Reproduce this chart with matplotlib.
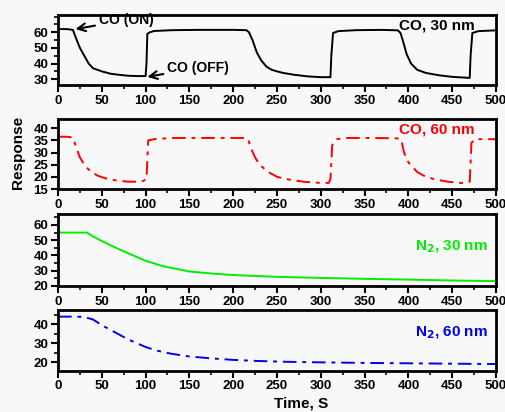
import matplotlib
matplotlib.use("Agg")
import matplotlib.pyplot as plt
from matplotlib.ticker import MultipleLocator

plt.rcParams['font.family'] = ['Liberation Sans', 'DejaVu Sans']
plt.rcParams['font.weight'] = 'bold'

# CO, 30 nm
t_co30 = [0,10,17,20,25,30,35,40,50,60,70,80,90,100,101,102,105,110,130,160,200,215,218,222,227,232,238,244,250,257,270,285,300,311,312,314,320,340,370,388,391,394,398,403,410,420,435,450,465,470,471,473,480,500]
v_co30 = [62,62,61.5,57,50,45,40,37,35,33.5,32.8,32.2,32,32,40,59,60,60.8,61.3,61.5,61.5,61.3,60,55,47,42,38,36,35,34,32.8,31.8,31.3,31.3,45,59.5,60.7,61.3,61.5,61.2,59.5,54,46,40,36,34,32.5,31.5,31,30.8,45,59.5,60.7,61.2]

# CO, 60 nm
t_co60 = [0,10,17,20,25,30,35,45,55,65,80,95,100,101,103,110,130,160,200,215,217,220,225,230,240,250,265,280,300,309,311,313,318,330,360,390,392,395,400,405,410,420,430,445,460,467,470,472,476,500]
v_co60 = [36.5,36.5,36.2,33,28,25,23,20.5,19.3,18.6,18,18,18.8,19,35,35.5,36,36,36,36,35.5,32,28,25,22,20,18.8,18,17.5,17.5,19,33,35.5,36,36,35.8,35,30,26,24,22,20,19,18,17.5,17.5,18,34,35.5,35.5]

# N2, 30 nm
t_n30 = [0,20,33,40,50,60,70,80,90,100,120,150,175,200,250,300,350,400,450,500]
v_n30 = [55,55,55,52.5,49.5,46.7,44,41.5,39,36.5,33,29.5,28.2,27.2,26,25.3,24.7,24.2,23.6,23.2]

# N2, 60 nm
t_n60 = [0,20,30,40,50,60,70,80,90,100,110,120,130,150,175,200,230,260,300,350,400,450,500]
v_n60 = [44,44,43.8,42.5,39.5,37,34.5,32,30,28,26.5,25.3,24.4,23,22,21.2,20.6,20.2,19.9,19.6,19.4,19.2,19]

xticks = [0,50,100,150,200,250,300,350,400,450,500]

bg = '#f8f8f8'
fig = plt.figure(figsize=(5.06,4.12), dpi=100, facecolor=bg)

L, W = 58/506, 438/506
def mk(top, bot):
    return fig.add_axes([L, 1-bot/412, W, (bot-top)/412], facecolor=bg)

ax1 = mk(15, 85)
ax2 = mk(119, 189)
ax3 = mk(214.3, 286)
ax4 = mk(310, 370.7)

dashdot = (0, (7, 3, 2, 3))
ax1.plot(t_co30, v_co30, color='black', lw=1.4)
ax2.plot(t_co60, v_co60, color='red', lw=1.4, linestyle=dashdot)
ax3.plot(t_n30, v_n30, color='#00ee00', lw=1.4)
ax4.plot(t_n60, v_n60, color='#0000ee', lw=1.4, linestyle=dashdot)

ax1.set_ylim(26.3, 71)
ax1.set_yticks([30,40,50,60]); ax1.yaxis.set_minor_locator(MultipleLocator(5))
ax2.set_ylim(15, 43.8)
ax2.set_yticks([15,20,25,30,35,40])
ax3.set_ylim(20, 67)
ax3.set_yticks([20,30,40,50,60]); ax3.yaxis.set_minor_locator(MultipleLocator(5))
ax4.set_ylim(15.5, 47.5)
ax4.set_yticks([20,30,40]); ax4.yaxis.set_minor_locator(MultipleLocator(5))

for ax in (ax1, ax2, ax3, ax4):
    ax.set_xlim(0, 500)
    ax.set_xticks(xticks)
    ax.xaxis.set_minor_locator(MultipleLocator(25))
    for s in ax.spines.values():
        s.set_linewidth(2)
    ax.tick_params(which='major', direction='out', length=5, width=1.5, labelsize=9.5, pad=2)
    ax.tick_params(which='minor', direction='out', length=3, width=1.2)
    for lab in ax.get_xticklabels() + ax.get_yticklabels():
        lab.set_fontweight('bold')

ax1.text(0.952, 0.857, 'CO, 30 nm', transform=ax1.transAxes, ha='right', va='center', fontsize=11, fontweight='bold', color='black')
ax2.text(0.952, 0.853, 'CO, 60 nm', transform=ax2.transAxes, ha='right', va='center', fontsize=11, fontweight='bold', color='red')
ax3.text(0.982, 0.548, 'N$_\\mathbf{2}$, 30 nm', transform=ax3.transAxes, ha='right', va='center', fontsize=11, fontweight='bold', color='#00ee00')
ax4.text(0.982, 0.62, 'N$_\\mathbf{2}$, 60 nm', transform=ax4.transAxes, ha='right', va='center', fontsize=11, fontweight='bold', color='#0000ee')

ax1.annotate('CO (ON)', xy=(20, 62), xytext=(47, 67.8), fontsize=10, fontweight='bold', va='center',
             arrowprops=dict(arrowstyle='->', lw=1.5, color='black', shrinkA=1, shrinkB=0, mutation_scale=14))
ax1.annotate('CO (OFF)', xy=(102, 31.5), xytext=(125, 37.3), fontsize=10, fontweight='bold', va='center',
             arrowprops=dict(arrowstyle='->', lw=1.5, color='black', shrinkA=1, shrinkB=0, mutation_scale=14))

fig.text(18/506, 1-152/412, 'Response', rotation=90, ha='center', va='center', fontsize=11, fontweight='bold')
fig.text(301/506, 1-404/412, 'Time, S', ha='center', va='center', fontsize=11, fontweight='bold')

fig.savefig('out.png', dpi=100, facecolor=bg)
